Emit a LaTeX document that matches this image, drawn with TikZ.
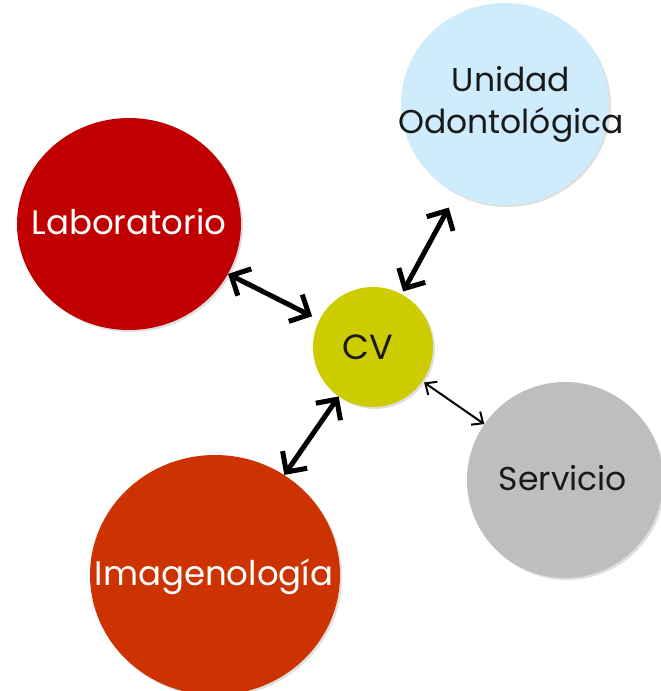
\documentclass[tikz,border=0pt]{standalone}
\usepackage{fontspec}
\setmainfont{Poppins}
\usetikzlibrary{arrows.meta,shapes.geometric,shadows}
\definecolor{labred}{RGB}{192,0,0}
\definecolor{unblue}{RGB}{206,236,252}
\definecolor{cvyellow}{RGB}{204,204,0}
\definecolor{servgray}{RGB}{190,190,190}
\definecolor{imgorange}{RGB}{204,51,0}
\definecolor{darktext}{RGB}{25,25,25}
\tikzset{
  blob/.style={ellipse, inner sep=0pt, draw=none,
    drop shadow={opacity=0.25, shadow xshift=2pt, shadow yshift=-2pt}},
  lbl/.style={inner sep=0pt, align=center},
  bigarrow/.style={{Straight Barb[length=15pt,width=30pt,line width=5pt]}-{Straight Barb[length=15pt,width=30pt,line width=5pt]}, line width=5pt, black},
  thinarrow/.style={{Straight Barb[length=9pt,width=16pt,line width=2pt]}-{Straight Barb[length=9pt,width=16pt,line width=2pt]}, line width=2pt, black}
}
\begin{document}
\begin{tikzpicture}[x=1pt,y=-1pt]
\useasboundingbox (0,0) rectangle (661,691);
\node[blob, fill=labred, minimum width=224pt, minimum height=212pt] (lab) at (129,224) {};
\node[blob, fill=unblue, minimum width=208pt, minimum height=202pt] (uni) at (505,104) {};
\node[blob, fill=cvyellow, minimum width=120pt, minimum height=120pt] (cv) at (373,347) {};
\node[blob, fill=servgray, minimum width=196pt, minimum height=196pt] (serv) at (565,480) {};
\node[blob, fill=imgorange, minimum width=250pt, minimum height=240pt] (img) at (215,575) {};

\node[lbl, text=white, font=\fontsize{34}{38}\selectfont] (labt) at (129,222) {Laboratorio};
\node[lbl, text=darktext, font=\fontsize{33}{42}\selectfont] (unit) at (511,104) {Unidad\\Odontológica};
\node[lbl, text=darktext, font=\fontsize{35}{38}\selectfont] (cvt) at (368,347) {CV};
\node[lbl, text=darktext, font=\fontsize{33}{36}\selectfont] (servt) at (563,478) {Servicio};
\node[lbl, text=white, font=\fontsize{34}{38}\selectfont] (imgt) at (214,577) {Imagenología};

\draw[bigarrow, shorten >=8pt] (lab) -- (cv);
\draw[bigarrow, shorten <=16pt, shorten >=3pt] (uni) -- (cv);
\draw[bigarrow] (img) -- (cv);
\draw[thinarrow, shorten <=2pt] (cv) -- (serv);
\end{tikzpicture}
\end{document}
